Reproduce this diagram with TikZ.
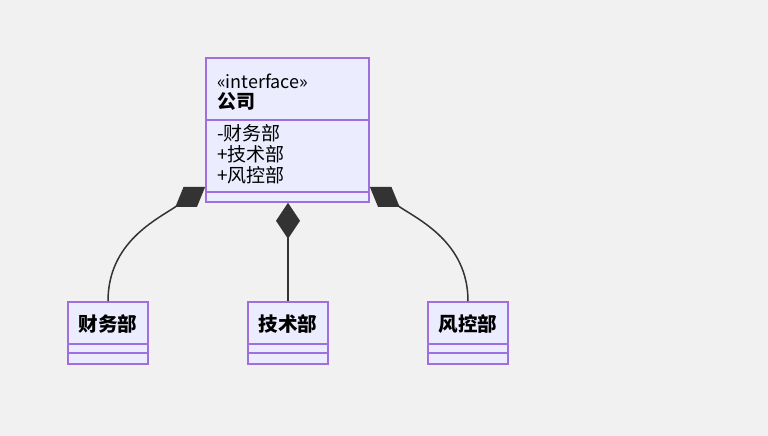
\documentclass[tikz,border=0pt]{standalone}
\usepackage{fontspec}
\setmainfont{Noto Sans CJK SC}
\usepackage{tikz}
\usetikzlibrary{arrows.meta}

\definecolor{hintergrund}{HTML}{F1F1F1}
\definecolor{umlfill}{HTML}{ECECFF}
\definecolor{umlrand}{HTML}{9F6FE0}
\definecolor{linie}{HTML}{333333}

\tikzset{
    klasse/.style={draw=umlrand, fill=umlfill, line width=1.6pt, inner sep=0pt},
    trenner/.style={draw=umlrand, line width=1.6pt},
    txt/.style={inner sep=0pt, font=\fontsize{19}{21}\selectfont},
    komposition/.style={draw=linie, line width=1.5pt,
        {Diamond[length=36pt, width=24pt, fill=linie]}-}
}

\begin{document}
\begin{tikzpicture}[x=1pt, y=1pt]
        \fill[hintergrund] (0,0) rectangle (768,436);
        \useasboundingbox (0,0) rectangle (768,436);

        % Hauptklasse
        \node[
            klasse,
            minimum width = 163pt,
            minimum height = 144pt] (firma) at (287.5,306) {};
        \draw[trenner] ([yshift=-63pt]firma.north west) -- ([yshift=-63pt]firma.north east);
        \draw[trenner] ([yshift=-135pt]firma.north west) -- ([yshift=-135pt]firma.north east);
        \node[txt, anchor=west, font=\fontsize{18}{21}\selectfont] (stereo) at (217,355) {«interface»};
        \node[txt, anchor=west, font=\fontsize{19}{21}\selectfont\bfseries] (name) at (217,335) {公司};
        \node[txt, anchor=west, align=left] (attr) at (217,282) {-财务部\\+技术部\\+风控部};

        % Teile
        \node[klasse, minimum width = 80pt, minimum height = 62pt] (cw) at (108,103) {};
        \node[klasse, minimum width = 80pt, minimum height = 62pt] (js) at (288,103) {};
        \node[klasse, minimum width = 80pt, minimum height = 62pt] (fk) at (468,103) {};
        \draw[trenner] ([yshift=-43pt]cw.north west) -- ([yshift=-43pt]cw.north east);
        \draw[trenner] ([yshift=-52pt]cw.north west) -- ([yshift=-52pt]cw.north east);
        \draw[trenner] ([yshift=-43pt]js.north west) -- ([yshift=-43pt]js.north east);
        \draw[trenner] ([yshift=-52pt]js.north west) -- ([yshift=-52pt]js.north east);
        \draw[trenner] ([yshift=-43pt]fk.north west) -- ([yshift=-43pt]fk.north east);
        \draw[trenner] ([yshift=-52pt]fk.north west) -- ([yshift=-52pt]fk.north east);
        \node[txt, font=\fontsize{19.5}{22}\selectfont\bfseries] (cwname) at ([yshift=-23pt]cw.north) {财务部};
        \node[txt, font=\fontsize{19.5}{22}\selectfont\bfseries] (jsname) at ([yshift=-23pt]js.north) {技术部};
        \node[txt, font=\fontsize{19.5}{22}\selectfont\bfseries] (fkname) at ([yshift=-23pt]fk.north) {风控部};

        % Kompositionen
        \coordinate (links) at ([yshift=16pt]firma.south west);
        \coordinate (rechts) at ([yshift=16pt]firma.south east);
        \draw[komposition] (links) to[out=-146, in=90] (cw.north);
        \draw[komposition] (firma.south -| js.north) -- (js.north);
        \draw[komposition] (rechts) to[out=-34, in=90] (fk.north);
    \end{tikzpicture}
\end{document}
